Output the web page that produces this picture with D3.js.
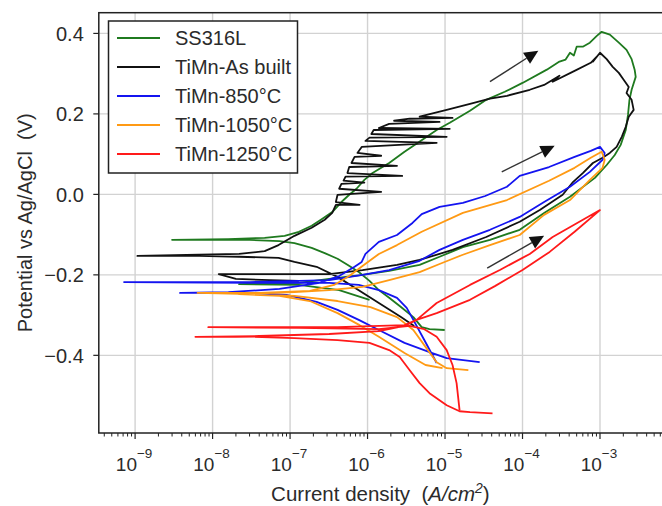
<!DOCTYPE html>
<html><head><meta charset="utf-8">
<script src="https://cdn.jsdelivr.net/npm/d3@7"></script>
<style>
body{margin:0;background:#fff}
svg{display:block}
text{font-family:"Liberation Sans",Arial,sans-serif;fill:#2b2b2b}
</style>
</head><body>
<svg id="chart" width="662" height="506"></svg>
<script>
// ---------------- data ----------------
const seriesNames = ["SS316L", "TiMn-As built", "TiMn-850°C", "TiMn-1050°C", "TiMn-1250°C"];
const seriesColors = ["#1f7a1f", "#111111", "#1414f0", "#ff9a14", "#ff1a1a"];
const yTicks = [0.4, 0.2, 0.0, -0.2, -0.4];
const yTickLabels = ["0.4", "0.2", "0.0", "\u22120.2", "\u22120.4"];
const xTickExponents = [-9, -8, -7, -6, -5, -4, -3];
const xDomain = [3.4e-10, 6.7e-3];
const yDomain = [-0.593, 0.4515];

// [current density (A/cm2), potential (V)]
const ss316l = [
[9.9e-6,-0.337],[6.3e-6,-0.335],[5.0e-6,-0.330],[3.9e-6,-0.305],[2.7e-6,-0.280],[1.9e-6,-0.257],[1.4e-6,-0.238],
[1.06e-6,-0.215],[7.7e-7,-0.193],[5.5e-7,-0.175],[4.1e-7,-0.160],[2.8e-7,-0.146],[1.9e-7,-0.133],[1.14e-7,-0.121],
[7.3e-8,-0.116],[3.0e-8,-0.113],[9.1e-9,-0.113],[3.0e-9,-0.113],[1.6e-8,-0.111],[4.7e-8,-0.108],[8.5e-8,-0.103],
[1.3e-7,-0.093],[1.9e-7,-0.078],[2.5e-7,-0.063],[3.5e-7,-0.044],[4.6e-7,-0.019],[5.8e-7,-0.001],[7.2e-7,0.014],
[9.1e-7,0.036],[1.16e-6,0.053],[1.9e-6,0.078],[3.0e-6,0.106],[5.1e-6,0.136],[7.8e-6,0.160],[1.15e-5,0.178],
[2.1e-5,0.208],[3.4e-5,0.235],[5.9e-5,0.255],[1.0e-4,0.277],[2.06e-4,0.310],[3.0e-4,0.330],[3.6e-4,0.335],
[4.1e-4,0.352],[4.6e-4,0.345],[5.0e-4,0.367],[6.0e-4,0.367],[7.4e-4,0.377],[9.1e-4,0.394],[1.05e-3,0.404],
[1.34e-3,0.397],[1.75e-3,0.377],[2.2e-3,0.359],[2.56e-3,0.336],[2.8e-3,0.310],[2.89e-3,0.292],[2.56e-3,0.260],
[2.4e-3,0.235],[2.3e-3,0.198],[2.15e-3,0.160],[1.85e-3,0.123],[1.55e-3,0.098],[1.22e-3,0.073],[8.6e-4,0.041],
[4.1e-4,-0.006],[1.9e-4,-0.046],[9.2e-5,-0.088],[3.8e-5,-0.113],[1.7e-5,-0.131],[8.5e-6,-0.155],[4.7e-6,-0.175],
[1.9e-6,-0.190],[8.6e-7,-0.200],[3.2e-7,-0.210],[1.3e-7,-0.220],[2.2e-8,-0.223],[1.3e-7,-0.225],[4.3e-7,-0.238],
[1.06e-6,-0.262]
];

const tiMnAsBuilt = [
[4.0e-6,-0.327],[2.7e-6,-0.305],[1.4e-6,-0.270],[7.7e-7,-0.238],[4.1e-7,-0.205],[2.2e-7,-0.180],[1.14e-7,-0.168],
[7.1e-8,-0.158],[2.2e-8,-0.155],[6.7e-9,-0.153],[1.07e-9,-0.153],[6.7e-9,-0.150],[2.2e-8,-0.148],[4.7e-8,-0.141],
[7.1e-8,-0.126],[1.14e-7,-0.103],[1.9e-7,-0.083],[2.8e-7,-0.063],[3.5e-7,-0.046],[3.9e-7,-0.026],[7.9e-7,-0.026],
[3.9e-7,-0.019],[4.1e-7,-0.001],[1.5e-6,0.006],[4.3e-7,0.014],[4.6e-7,0.026],[9.1e-7,0.029],[4.9e-7,0.034],
[5.2e-7,0.044],[2.8e-6,0.046],[5.5e-7,0.053],[5.8e-7,0.068],[2.4e-6,0.071],[6.2e-7,0.078],[6.8e-7,0.093],
[1.5e-6,0.096],[7.4e-7,0.103],[8.4e-7,0.118],[7.8e-6,0.128],[9.4e-7,0.133],[1.06e-6,0.141],[1.05e-5,0.143],
[1.12e-6,0.150],[1.2e-6,0.160],[1.15e-5,0.163],[1.4e-6,0.165],[1.9e-6,0.175],[8.5e-6,0.180],[2.2e-6,0.183],
[3.5e-6,0.188],[1.25e-5,0.190],[4.7e-6,0.193],[1.05e-5,0.210],[2.1e-5,0.225],[3.8e-5,0.238],[6.3e-5,0.245],
[1.24e-4,0.260],[1.9e-4,0.272],[3.0e-4,0.295],[2.45e-4,0.280],[4.7e-4,0.307],[7.6e-4,0.327],[9.1e-4,0.342],
[8.1e-4,0.330],[1.0e-3,0.352],[1.22e-3,0.336],[1.46e-3,0.317],[1.75e-3,0.302],[2.02e-3,0.285],[2.35e-3,0.267],
[2.2e-3,0.252],[2.56e-3,0.235],[2.72e-3,0.210],[2.35e-3,0.193],[2.15e-3,0.168],[1.91e-3,0.143],[1.64e-3,0.118],
[1.34e-3,0.103],[1.08e-3,0.091],[8.1e-4,0.078],[6.0e-4,0.053],[4.4e-4,0.029],[3.3e-4,-0.001],[1.67e-4,-0.039],
[9.2e-5,-0.068],[3.4e-5,-0.106],[1.25e-5,-0.138],[4.7e-6,-0.163],[2.4e-6,-0.175],[8.6e-7,-0.188],[3.2e-7,-0.198],
[1.14e-7,-0.198],[3.0e-8,-0.198],[1.2e-8,-0.198],[2.0e-8,-0.210],[5.4e-8,-0.213],[1.3e-7,-0.215]
];

const tiMn850 = [
[2.8e-5,-0.417],[1.05e-5,-0.407],[6.3e-6,-0.392],[3.0e-6,-0.369],[1.4e-6,-0.337],[7.7e-7,-0.312],[4.1e-7,-0.287],
[2.2e-7,-0.267],[9.0e-8,-0.250],[3.3e-8,-0.245],[3.8e-9,-0.245],[1.6e-8,-0.243],[7.3e-8,-0.235],[2.4e-7,-0.220],
[4.3e-7,-0.203],[6.8e-7,-0.180],[8.4e-7,-0.168],[9.4e-7,-0.148],[1.4e-6,-0.118],[2.4e-6,-0.101],[3.8e-6,-0.071],
[5.0e-6,-0.049],[8.5e-6,-0.031],[1.7e-5,-0.021],[3.3e-5,-0.004],[6.3e-5,0.019],[9.2e-5,0.046],[2.2e-4,0.068],
[4.7e-4,0.093],[7.6e-4,0.108],[1.0e-3,0.118],[1.15e-3,0.103],[1.08e-3,0.086],[7.4e-4,0.056],[4.1e-4,0.019],
[1.9e-4,-0.019],[9.2e-5,-0.056],[3.8e-5,-0.088],[1.7e-5,-0.113],[8.5e-6,-0.138],[4.7e-6,-0.165],[1.9e-6,-0.188],
[8.6e-7,-0.200],[3.2e-7,-0.213],[1.3e-7,-0.215],[3.0e-8,-0.218],[7.2e-10,-0.218],[3.0e-8,-0.220],[3.2e-7,-0.220],
[7.7e-7,-0.225],[1.4e-6,-0.238],[2.4e-6,-0.257],[3.2e-6,-0.282],[3.9e-6,-0.312],[5.4e-6,-0.362],[7.8e-6,-0.419]
];

const tiMn1050 = [
[2.0e-5,-0.437],[1.05e-5,-0.432],[7.8e-6,-0.417],[5.6e-6,-0.379],[3.9e-6,-0.337],[2.4e-6,-0.305],[1.09e-6,-0.280],
[4.1e-7,-0.265],[1.14e-7,-0.252],[3.0e-8,-0.248],[6.4e-9,-0.245],[4.0e-8,-0.245],[1.8e-7,-0.240],[3.7e-7,-0.225],
[5.8e-7,-0.203],[8.6e-7,-0.178],[1.4e-6,-0.148],[2.4e-6,-0.126],[5.0e-6,-0.093],[1.7e-5,-0.046],[6.3e-5,-0.014],
[2.2e-4,0.034],[4.7e-4,0.066],[7.6e-4,0.091],[1.05e-3,0.106],[1.15e-3,0.086],[1.08e-3,0.066],[7.4e-4,0.036],
[4.1e-4,-0.014],[1.9e-4,-0.051],[9.2e-5,-0.101],[3.8e-5,-0.126],[1.7e-5,-0.150],[8.5e-6,-0.173],[4.7e-6,-0.193],
[1.9e-6,-0.213],[8.6e-7,-0.230],[3.2e-7,-0.238],[1.14e-7,-0.243],[2.2e-8,-0.248],[7.3e-8,-0.252],[1.8e-7,-0.265],
[4.1e-7,-0.295],[7.9e-7,-0.325],[1.4e-6,-0.354],[3.0e-6,-0.394],[5.6e-6,-0.424],[9.3e-6,-0.432]
];

const tiMn1250 = [
[4.1e-5,-0.544],[2.1e-5,-0.541],[1.54e-5,-0.539],[1.05e-5,-0.524],[6.3e-6,-0.494],[4.7e-6,-0.469],[3.5e-6,-0.437],
[2.6e-6,-0.404],[1.9e-6,-0.387],[1.06e-6,-0.369],[4.1e-7,-0.362],[1.14e-7,-0.357],[3.3e-8,-0.354],[6.0e-9,-0.354],
[4.0e-8,-0.352],[3.2e-7,-0.347],[1.4e-6,-0.340],[3.0e-6,-0.327],[4.3e-6,-0.312],[7.8e-6,-0.270],[2.1e-5,-0.225],
[5.1e-5,-0.188],[1.24e-4,-0.148],[2.45e-4,-0.106],[1.0e-3,-0.039],[4.7e-4,-0.093],[2.24e-4,-0.143],[1.0e-4,-0.188],
[4.4e-5,-0.228],[2.1e-5,-0.262],[7.8e-6,-0.295],[4.3e-6,-0.312],
[3.0e-6,-0.325],[4.1e-7,-0.330],[3.3e-8,-0.330],[8.8e-9,-0.330],[1.3e-7,-0.332],[1.4e-6,-0.335],[3.5e-6,-0.327],
[5.4e-6,-0.335],[7.8e-6,-0.354],[1.05e-5,-0.387],[1.25e-5,-0.424],[1.41e-5,-0.469],[1.54e-5,-0.536]
];

const allSeries = [ss316l, tiMnAsBuilt, tiMn850, tiMn1050, tiMn1250];

// scan-direction arrows: [start, end] in data units
const arrows = [
  [[3.8e-5, 0.280], [1.6e-4, 0.357]],
  [[5.4e-5, 0.056], [2.6e-4, 0.121]],
  [[3.5e-5, -0.183], [1.9e-4, -0.103]]
];

// ---------------- layout ----------------
const svg = d3.select("#chart");
const L = 98.8, R = 664, T = 12.7, B = 433;
const x = d3.scaleLog().domain(xDomain).range([L, R]);
const y = d3.scaleLinear().domain(yDomain).range([B, T]);

svg.append("defs").append("clipPath").attr("id", "clip")
  .append("rect").attr("x", L).attr("y", T).attr("width", R - L).attr("height", B - T);

// grid
const grid = svg.append("g");
grid.selectAll("line.vx").data(xTickExponents).join("line")
  .attr("x1", d => x(Math.pow(10, d))).attr("x2", d => x(Math.pow(10, d)))
  .attr("y1", T).attr("y2", B).attr("stroke", "#d2d2d2").attr("stroke-width", 1.4);
grid.selectAll("line.hy").data(yTicks).join("line")
  .attr("x1", L).attr("x2", R).attr("y1", d => y(d)).attr("y2", d => y(d))
  .attr("stroke", "#d2d2d2").attr("stroke-width", 1.4);

// curves
const line = d3.line().x(d => x(d[0])).y(d => y(d[1]));
const curves = svg.append("g").attr("clip-path", "url(#clip)");
allSeries.forEach((s, i) => {
  curves.append("path").datum(s).attr("d", line)
    .attr("fill", "none").attr("stroke", seriesColors[i])
    .attr("stroke-width", 1.8).attr("stroke-linejoin", "round");
});

// arrows
const ag = svg.append("g");
arrows.forEach(a => {
  const x1 = x(a[0][0]), y1 = y(a[0][1]), x2 = x(a[1][0]), y2 = y(a[1][1]);
  const ang = Math.atan2(y2 - y1, x2 - x1);
  const hl = 14, hw = 6.5;
  const bx = x2 - hl * Math.cos(ang), by = y2 - hl * Math.sin(ang);
  ag.append("line").attr("x1", x1).attr("y1", y1).attr("x2", bx).attr("y2", by)
    .attr("stroke", "#333").attr("stroke-width", 1.4);
  const p = [[x2, y2],
    [bx + hw * Math.sin(ang), by - hw * Math.cos(ang)],
    [bx - hw * Math.sin(ang), by + hw * Math.cos(ang)]];
  ag.append("path").attr("d", "M" + p.map(q => q.join(",")).join("L") + "Z").attr("fill", "#111");
});

// frame
svg.append("rect").attr("x", L).attr("y", T).attr("width", R - L).attr("height", B - T)
  .attr("fill", "none").attr("stroke", "#222").attr("stroke-width", 1.5);

// y axis ticks & labels
const yax = svg.append("g");
yTicks.forEach((t, i) => {
  yax.append("line").attr("x1", L - 5.5).attr("x2", L).attr("y1", y(t)).attr("y2", y(t))
    .attr("stroke", "#222").attr("stroke-width", 1.2);
  yax.append("text").attr("x", L - 15).attr("y", y(t)).attr("dy", "0.36em")
    .attr("text-anchor", "end").attr("font-size", 20).text(yTickLabels[i]);
});

// x axis ticks (major + minor) & labels
const xax = svg.append("g");
const minor = [];
for (let e = -10; e <= -3; e++) for (let m = 2; m <= 9; m++) {
  const v = m * Math.pow(10, e);
  if (v >= xDomain[0] && v <= xDomain[1]) minor.push(v);
}
xax.selectAll("line.mi").data(minor).join("line")
  .attr("x1", d => x(d)).attr("x2", d => x(d)).attr("y1", B).attr("y2", B + 3.5)
  .attr("stroke", "#222").attr("stroke-width", 1);
xTickExponents.forEach(e => {
  const px = x(Math.pow(10, e));
  xax.append("line").attr("x1", px).attr("x2", px).attr("y1", B).attr("y2", B + 6)
    .attr("stroke", "#222").attr("stroke-width", 1.2);
  const t = xax.append("text").attr("x", px - 1).attr("y", 471).attr("text-anchor", "middle").attr("font-size", 19);
  t.append("tspan").text("10");
  t.append("tspan").attr("dy", -13).attr("font-size", 13.5).text("\u2212" + Math.abs(e));
});

// axis labels
const xl = svg.append("text").attr("x", (L + R) / 2 - 1).attr("y", 501).attr("text-anchor", "middle")
  .attr("font-size", 20.5).attr("xml:space", "preserve");
xl.append("tspan").text("Current density  (");
xl.append("tspan").attr("font-style", "italic").text("A/cm");
xl.append("tspan").attr("font-style", "italic").attr("dy", -8).attr("font-size", 14).text("2");
xl.append("tspan").attr("dy", 8).text(")");

svg.append("text").attr("transform", `translate(32,${(T + B) / 2}) rotate(-90)`)
  .attr("text-anchor", "middle").attr("font-size", 20).attr("xml:space", "preserve")
  .text("Potential vs Ag/AgCl  (V)");

// legend
const lg = svg.append("g");
lg.append("rect").attr("x", 108.5).attr("y", 21).attr("width", 189).attr("height", 152)
  .attr("fill", "#fff").attr("stroke", "#222").attr("stroke-width", 1.5);
seriesNames.forEach((n, i) => {
  const yy = 38 + i * 29;
  lg.append("line").attr("x1", 117).attr("x2", 160).attr("y1", yy).attr("y2", yy)
    .attr("stroke", seriesColors[i]).attr("stroke-width", 2);
  lg.append("text").attr("x", 175).attr("y", yy).attr("dy", "0.36em").attr("font-size", 20).text(n);
});
</script>
</body></html>
